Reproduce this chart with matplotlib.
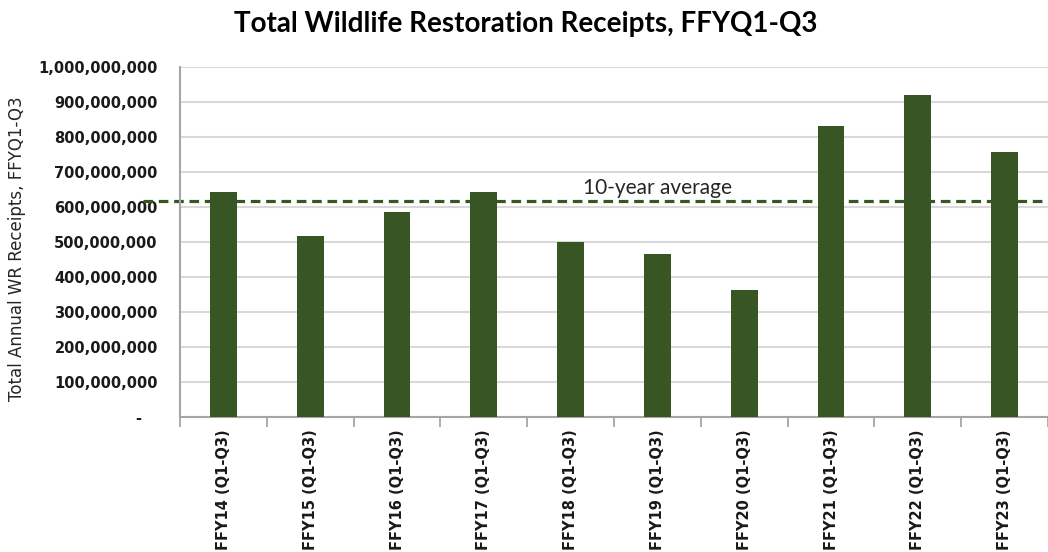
import numpy as np
import matplotlib.pyplot as plt
from matplotlib.ticker import FuncFormatter

years = ['FFY14', 'FFY15', 'FFY16', 'FFY17', 'FFY18',
         'FFY19', 'FFY20', 'FFY21', 'FFY22', 'FFY23']
labels = [f'{y} (Q1-Q3)' for y in years]
receipts = [642e6, 516e6, 585e6, 642e6, 501e6,
            466e6, 362e6, 831e6, 919e6, 756e6]
avg_10yr = 616e6

BAR = '#375623'
GRID = '#d9d9d9'
AXIS = '#a6a6a6'

fig = plt.figure(figsize=(10.48, 5.52), dpi=100)
fig.patch.set_facecolor('white')
ax = fig.add_axes([180 / 1048, 1 - 417 / 552, 1 - 180 / 1048, 350 / 552])

x = np.arange(len(years))
ax.bar(x, receipts, width=0.31, color=BAR, zorder=3)

# 10-year average line (runs a bit past the axis on the left, as in the source)
ax.plot([-0.93, 9.6], [avg_10yr, avg_10yr], color=BAR, lw=2.3,
        dashes=(3, 1.8), zorder=2, clip_on=False)
ax.text(5.0, avg_10yr + 10e6, '10-year average', ha='center', va='bottom',
        fontsize=15, family='Lato', color='#262626', zorder=4)

ax.set_xlim(-0.5, 9.36)
ax.set_ylim(0, 1e9)
ax.set_yticks(np.arange(0, 1.0001e9, 1e8))
ax.yaxis.set_major_formatter(FuncFormatter(
    lambda v, p: '-   ' if v == 0 else f'{v:,.0f}'))
ax.tick_params(axis='y', length=0, pad=16, labelsize=10.5,
               labelcolor='#1a1a1a')
for t in ax.get_yticklabels():
    t.set_fontweight('bold')

ax.set_xticks(x)
ax.set_xticklabels(labels, rotation=90, fontsize=10.5, fontweight='bold',
                   color='#1a1a1a', va='top')
ax.set_xticks(np.arange(-0.5, 10, 1), minor=True)
ax.tick_params(axis='x', which='major', length=0, pad=9)
ax.tick_params(axis='x', which='minor', length=7, width=1.3, color=AXIS)

ax.grid(axis='y', color=GRID, lw=1.5, zorder=0)
ax.set_axisbelow(True)
for sp in ['top', 'right']:
    ax.spines[sp].set_visible(False)
for sp in ['left', 'bottom']:
    ax.spines[sp].set_color(AXIS)
    ax.spines[sp].set_linewidth(1.5)

ax.set_ylabel('Total Annual WR Receipts, FFYQ1-Q3', fontsize=12,
              color='#262626')
ax.yaxis.set_label_coords(-0.177, 0.48)

fig.text(526 / 1048, 1 - 24 / 552, 'Total Wildlife Restoration Receipts, FFYQ1-Q3',
         ha='center', va='center', fontsize=20, fontweight='bold',
         family='Lato', color='#000000')

fig.savefig('out.png', dpi=100, facecolor='white')
plt.close(fig)
